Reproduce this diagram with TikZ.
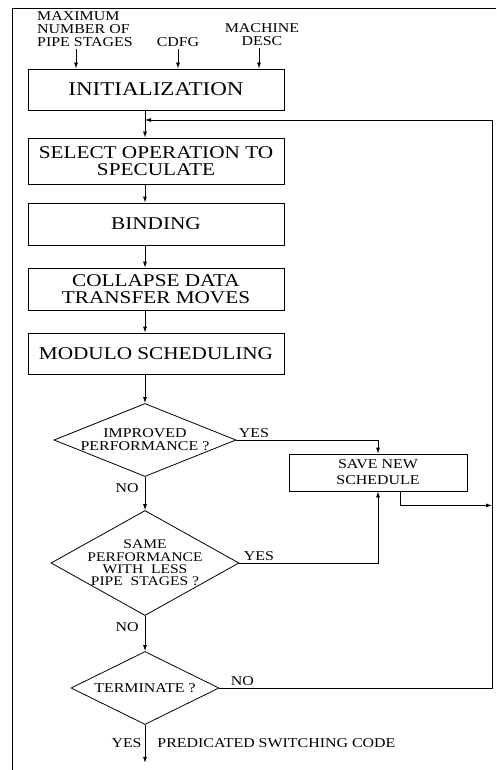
\documentclass[tikz,border=0pt]{standalone}
\usepackage{fontspec}
\setmainfont[FakeStretch=1.18]{Liberation Serif}
\usetikzlibrary{arrows.meta,shapes.geometric}
\newcommand\stepfont{\fontsize{18}{17.5}\selectfont}
\newcommand\initfont{\fontsize{19.5}{17}\selectfont}
\newcommand\tagfont{\fontsize{13.5}{13}\selectfont}
\tikzset{
  stepbox/.style={draw, minimum width=256pt, inner sep=0pt, align=center, font=\stepfont},
  savebox/.style={draw, minimum width=178pt, minimum height=37pt, inner sep=0pt, align=center,
    font=\fontsize{13.5}{16}\selectfont},
  decision/.style={diamond, draw, inner sep=0pt},
  tag/.style={font=\tagfont, inner sep=2pt, align=center}
}

\begin{document}
\begin{tikzpicture}[x=1pt, y=-1pt, line width=0.8pt, >={Latex[length=6pt,width=4pt]}]
    \useasboundingbox (0,0) rectangle (496,770);
    % frame
    \draw (496,8) -- (12,8) -- (12,770);
    \coordinate (spine) at (145,0);
    \coordinate (back) at (492,120);

    % inputs
    \node[tag, align=left] (maxst) at (85,29) {MAXIMUM\\NUMBER OF\\PIPE STAGES};
    \node[tag] (cdfg) at (178,42) {CDFG};
    \node[tag] (mdesc) at (262,35) {MACHINE\\DESC};

    % steps
    \node[stepbox, minimum height=41pt, font=\initfont] (init) at (156,89.5) {INITIALIZATION};
    \node[stepbox, minimum height=46pt] (select) at (156,161) {SELECT OPERATION TO\\SPECULATE};
    \node[stepbox, minimum height=42pt] (binding) at (156,224) {BINDING};
    \node[stepbox, minimum height=42pt] (collapse) at (156,289) {COLLAPSE DATA\\TRANSFER MOVES};
    \node[stepbox, minimum height=41pt] (modulo) at (156,353.5) {MODULO SCHEDULING};

    % decisions
    \node[decision, minimum width=182pt, minimum height=73pt,
      label={[tag]center:IMPROVED\\PERFORMANCE ?}] (improved) at (145,440) {};
    \node[savebox] (save) at (378,472.5) {SAVE NEW\\SCHEDULE};
    \node[decision, minimum width=188pt, minimum height=105pt,
      label={[tag, font=\fontsize{13.2}{12.2}\selectfont]center:SAME\\PERFORMANCE\\WITH~~LESS\\PIPE~~STAGES ?}] (same) at (145,563) {};
    \node[decision, minimum width=148pt, minimum height=73pt,
      label={[tag]center:TERMINATE ?}] (term) at (145,688) {};

    \draw[->] ([xshift=-9pt]maxst.south) -- ([xshift=-9pt]maxst.south |- init.north);
    \draw[->] (cdfg) -- (cdfg |- init.north);
    \draw[->] ([xshift=-3pt]mdesc.south) -- ([xshift=-3pt]mdesc.south |- init.north);

    \draw[->] (init.south -| spine) -- (select.north -| spine);
    \draw[->] (select.south -| spine) -- (binding.north -| spine);
    \draw[->] (binding.south -| spine) -- (collapse.north -| spine);
    \draw[->] (collapse.south -| spine) -- (modulo.north -| spine);
    \draw[->] (modulo.south -| spine) -- (improved.north);

    \draw[->] (improved.south) -- node[tag, left=4pt, pos=0.35] {NO} (same.north);
    \draw[->] (same.south) -- node[tag, left=4pt, pos=0.33] {NO} (term.north);
    \draw[->] (term.south) -- ++(0,38)
      node[tag, left=1pt, pos=0.47] {YES}
      node[tag, right=10pt, pos=0.47] {PREDICATED SWITCHING CODE};

    \draw[->] (improved.east) -| node[tag, above right, pos=0] {YES} (save.north);
    \draw[->] (same.east) -| node[tag, above right, pos=0, xshift=2pt] {YES} (save.south);
    \draw[->] ([xshift=22pt]save.south) |- ([yshift=-14pt]save.south -| back);
    \draw[->] (term.east) -| node[tag, above right, pos=0, xshift=9pt] {NO} (back) -- (back -| spine);
\end{tikzpicture}
\end{document}
